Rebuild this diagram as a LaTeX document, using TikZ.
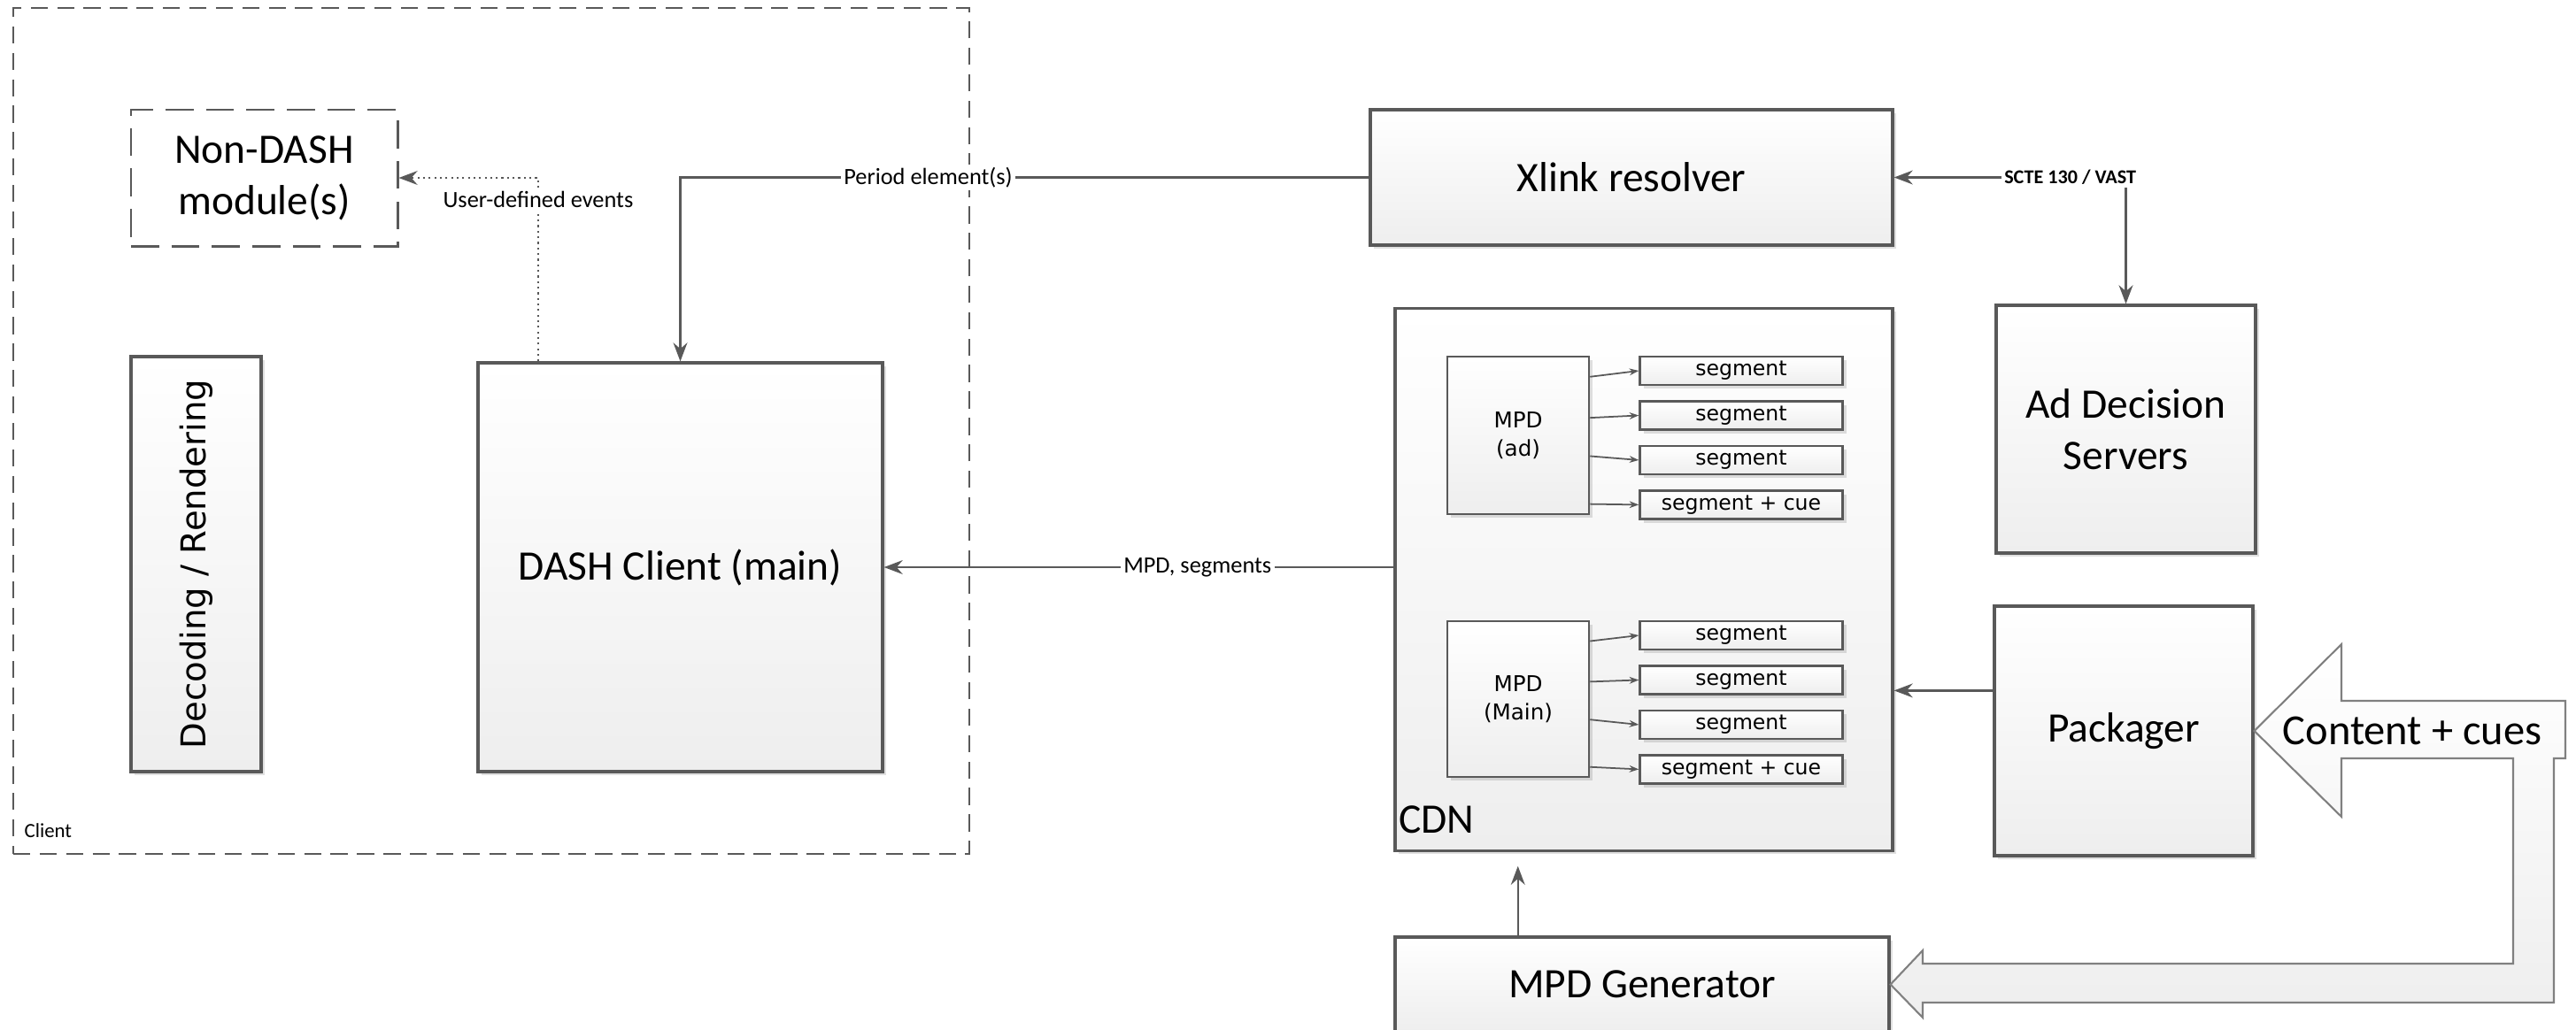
\documentclass[tikz,border=0pt]{standalone}
\usepackage{fontspec}
\setmainfont{Carlito}
\newfontfamily\verdfont{DejaVu Sans}
\usetikzlibrary{positioning,arrows.meta,calc,shadows}
\definecolor{linegray}{RGB}{89,89,89}
\definecolor{boxgray}{RGB}{238,238,238}
\definecolor{bigarrgray}{RGB}{128,128,128}

\begin{document}
\begin{tikzpicture}[
    blk/.style={draw=linegray, line width=0.9pt, top color=white, bottom color=boxgray, inner sep=0pt, align=center,
      font=\fontsize{13.5}{16.5}\selectfont, drop shadow={shadow xshift=1.2pt, shadow yshift=-1.2pt, fill=black, opacity=0.12}},
    mpdbox/.style={blk, line width=0.7pt, minimum width=1.60cm, font=\verdfont\fontsize{7}{9}\selectfont},
    segbox/.style={blk, line width=0.7pt, minimum width=2.29cm, minimum height=0.32cm, font=\verdfont\fontsize{6.7}{8}\selectfont},
    clientframe/.style={draw=linegray, line width=0.6pt, dash pattern=on 5.5pt off 3pt},
    arr/.style={->, >={Stealth[length=6pt, width=4.5pt]}, draw=linegray, line width=0.7pt},
    sarr/.style={->, >={Stealth[length=3pt, width=2.2pt]}, draw=linegray, line width=0.5pt},
    dotarr/.style={arr, dash pattern=on 0.6pt off 1.2pt, line width=0.6pt},
    lbl/.style={fill=white, inner sep=1pt, font=\fontsize{7.5}{9}\selectfont}
  ]
  \useasboundingbox (0,0) rectangle (29.1,-11.63);

  % client side
  \node[clientframe, minimum width=10.80cm, minimum height=9.56cm] (client) at (5.55,-4.87) {};
  \node[anchor=base west, inner sep=0pt, font=\fontsize{6.5}{8}\selectfont] (clientlbl) at ($(client.south west)+(0.13,0.2)$) {Client};
  \node[draw=linegray, line width=0.85pt, dash pattern=on 9pt off 4pt, minimum width=3.01cm, minimum height=1.54cm, align=center,
    font=\fontsize{13.5}{16.5}\selectfont] (nondash) at (2.985,-2.01) {Non-DASH\\module(s)};
  \node[blk, minimum width=1.47cm, minimum height=4.69cm, font=\verdfont\fontsize{11}{13}\selectfont] (decode) at (2.215,-6.375) {\rotatebox{90}{Decoding / Rendering}};
  \node[blk, minimum width=4.57cm, minimum height=4.62cm] (dash) at (7.685,-6.41) {DASH Client (main)};

  % network side
  \node[blk, minimum width=5.90cm, minimum height=1.53cm] (xlink) at (18.43,-2.005) {Xlink resolver};
  \node[blk, minimum width=5.62cm, minimum height=6.13cm, below left=0.68cm and 0cm of xlink.south east] (cdn) {};
  \node[anchor=base west, inner sep=0pt, font=\fontsize{13.5}{16.5}\selectfont] (cdnlbl) at ($(cdn.south west)+(0.05,0.21)$) {CDN};
  \node[blk, minimum width=2.93cm, minimum height=2.80cm] (adserv) at (24.015,-4.85) {Ad Decision\\Servers};
  \node[blk, minimum width=2.92cm, minimum height=2.82cm] (pack) at (23.99,-8.26) {Packager};
  \node[blk, minimum width=5.58cm, minimum height=1.07cm] (mpdgen) at (18.55,-11.125) {MPD Generator};

  % content of the CDN
  \node[mpdbox, minimum height=1.78cm] (mpdad) at (17.15,-4.92) {MPD\\(ad)};
  \node[mpdbox, minimum height=1.76cm] (mpdmain) at (17.15,-7.90) {MPD\\(Main)};
  \node[segbox, right=0.55cm of mpdad.north east, anchor=north west] (sa1) {segment};
  \node[segbox, below=0.16cm of sa1] (sa2) {segment};
  \node[segbox, below=0.16cm of sa2] (sa3) {segment};
  \node[segbox, below=0.16cm of sa3] (sa4) {segment + cue};
  \node[segbox, right=0.55cm of mpdmain.north east, anchor=north west] (sm1) {segment};
  \node[segbox, below=0.16cm of sm1] (sm2) {segment};
  \node[segbox, below=0.16cm of sm2] (sm3) {segment};
  \node[segbox, below=0.16cm of sm3] (sm4) {segment + cue};
  \foreach \f/\s in {0.133/1, 0.39/2, 0.63/3, 0.93/4} {
    \draw[sarr] ($(mpdad.north east)!\f!(mpdad.south east)$) -- (sa\s.west);
    \draw[sarr] ($(mpdmain.north east)!\f!(mpdmain.south east)$) -- (sm\s.west);
  }

  % connectors
  \draw[arr] (xlink.west) -| node[lbl, pos=0.32] {Period element(s)} (dash.north);
  \draw[dotarr] ($(dash.north west)!0.151!(dash.north east)$) |- node[lbl, pos=0.44] {User-defined events} (nondash.east);
  \draw[arr] (cdn.west |- dash.east) -- node[lbl, pos=0.385] {MPD, segments} (dash.east);
  \draw[arr, <->] (xlink.east) -| node[lbl, pos=0.38, font=\bfseries\fontsize{6.3}{8}\selectfont] {SCTE 130 / VAST} (adserv.north);
  \coordinate (pk) at ($(pack.north west)!0.34!(pack.south west)$);
  \draw[arr] (pk) -- (pk -| cdn.east);
  \coordinate (mg) at ($(mpdgen.north west)!0.25!(mpdgen.north east)$);
  \draw[arr, shorten >=0.16cm] (mg) -- (mg |- cdn.south);

  % content + cues block arrow
  \draw[draw=bigarrgray, line width=0.6pt, top color=white, bottom color=boxgray]
    (pack.east) -- (26.45,-7.28) -- (26.45,-7.92) -- (28.98,-7.92) -- (28.98,-8.57) -- (28.85,-8.57)
    -- (28.85,-11.33) -- (21.72,-11.33) -- (21.72,-11.50) -- (mpdgen.east) -- (21.72,-10.74) -- (21.72,-10.89)
    -- (28.39,-10.89) -- (28.39,-8.57) -- (26.45,-8.57) -- (26.45,-9.23) -- cycle;
  \node[font=\fontsize{13.8}{16.5}\selectfont] (cues) at (27.25,-8.26) {Content + cues};
\end{tikzpicture}
\end{document}
